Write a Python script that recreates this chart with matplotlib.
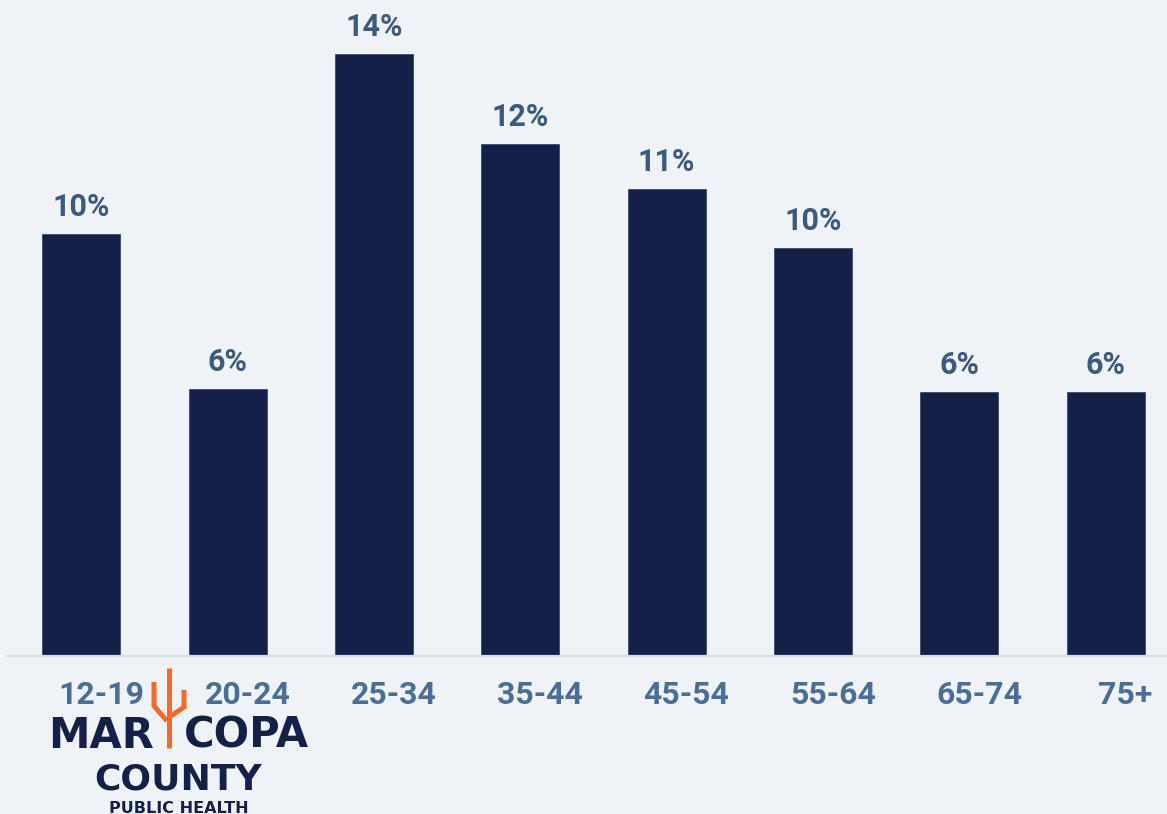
import matplotlib
matplotlib.use('Agg')
import matplotlib.pyplot as plt
import matplotlib.transforms as mtransforms
from matplotlib.lines import Line2D
import numpy as np

plt.rcParams.update({'font.family': 'Roboto', 'font.weight': 'bold'})

# data
age_groups = ['12-19', '20-24', '25-34', '35-44', '45-54', '55-64', '65-74', '75+']
shares = [9.81, 6.21, 14.0, 11.91, 10.86, 9.49, 6.14, 6.14]
share_labels = ['10%', '6%', '14%', '12%', '11%', '10%', '6%', '6%']

BG = '#eff3f7'
BAR = '#142048'
VAL = '#3b5a7e'
TICK = '#4a6e96'
AXLINE = '#d3dfea'
ORANGE = '#f26b2c'

W, H = 1167, 814
fig = plt.figure(figsize=(W / 100, H / 100), dpi=100, facecolor=BG)
ax = fig.add_axes([8 / W, 158 / H, (W - 8) / W, 656 / H])
ax.set_facecolor(BG)

x = np.arange(len(age_groups))
bars = ax.bar(x, shares, width=0.533, color=BAR, edgecolor='#3a4a72', linewidth=0.6, zorder=2)

for bar, lab in zip(bars, share_labels):
    ax.annotate(lab, (bar.get_x() + bar.get_width() / 2, bar.get_height()),
                xytext=(0, 13), textcoords='offset points',
                ha='center', va='baseline', fontsize=22, color=VAL, fontweight='bold')

ax.set_xlim(-0.5, 7.42)
ax.set_ylim(0, 656 / 43)

ax.set_xticks(x)
ax.set_xticklabels(age_groups, fontsize=23, color=TICK, fontweight='bold')
ax.tick_params(axis='x', length=0, pad=17)
ax.tick_params(axis='y', left=False, labelleft=False)
shift = mtransforms.ScaledTranslation(0.20, 0, fig.dpi_scale_trans)
for t in ax.get_xticklabels():
    t.set_transform(t.get_transform() + shift)

for side in ['top', 'right', 'left']:
    ax.spines[side].set_visible(False)
ax.spines['bottom'].set_color(AXLINE)
ax.spines['bottom'].set_linewidth(1.6)
ax.spines['bottom'].set_zorder(3)

# logo
def fx(px):
    return px / W

def fy(py):
    return 1 - py / H

logo_font = 'DejaVu Sans'
fig.text(fx(101), fy(748), 'MAR', ha='center', va='baseline', fontsize=30,
         color=BAR, fontweight='bold', family=logo_font)
fig.text(fx(246), fy(748), 'COPA', ha='center', va='baseline', fontsize=30,
         color=BAR, fontweight='bold', family=logo_font)
fig.text(fx(178), fy(789), 'COUNTY', ha='center', va='baseline', fontsize=26,
         color=BAR, fontweight='bold', family=logo_font)
fig.text(fx(179), fy(813), 'PUBLIC HEALTH', ha='center', va='baseline', fontsize=11.5,
         color=BAR, fontweight='bold', family=logo_font)

cactus = [
    ([169, 169], [668, 748]),
    ([154, 154, 167], [682, 706, 721]),
    ([184, 184, 171], [690, 707, 716]),
]
for xs, ys in cactus:
    fig.add_artist(Line2D([fx(v) for v in xs], [fy(v) for v in ys],
                          transform=fig.transFigure, color=ORANGE, lw=3.6,
                          solid_joinstyle='miter', solid_capstyle='butt'))

fig.savefig('out.png', dpi=100, facecolor=BG)
